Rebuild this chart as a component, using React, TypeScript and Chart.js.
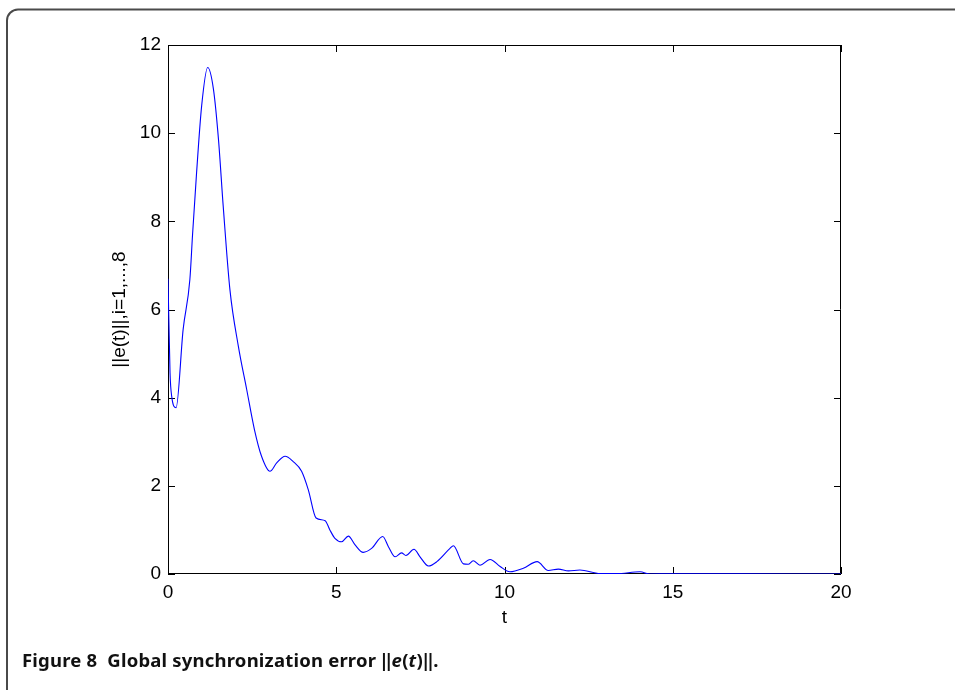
import { useEffect, useRef } from "react";
import { Chart, registerables } from "chart.js";

Chart.register(...registerables);

const tValues = [
  0, 0.06, 0.11, 0.24, 0.45, 0.65, 0.73, 0.85, 1.0, 1.18, 1.35, 1.5, 1.64, 1.84,
  2.09, 2.34, 2.57, 2.78, 3.03, 3.23, 3.48, 3.72, 3.97, 4.17, 4.4, 4.67, 4.81,
  4.96, 5.16, 5.36, 5.56, 5.8, 6.05, 6.38, 6.55, 6.75, 6.94, 7.07, 7.31, 7.49,
  7.74, 7.99, 8.38, 8.48, 8.78, 8.92, 9.07, 9.27, 9.57, 9.87, 10.16, 10.56,
  10.97, 11.3, 11.6, 11.9, 12.24, 12.84, 13.33, 14.03, 14.32, 15, 17, 20,
];
const errValues = [
  6.7, 4.57, 4.03, 3.77, 5.55, 6.68, 7.7, 9.11, 10.62, 11.49, 11.0, 9.86, 8.35,
  6.45, 5.17, 4.18, 3.27, 2.67, 2.33, 2.52, 2.67, 2.55, 2.33, 1.91, 1.27, 1.21,
  1.0, 0.81, 0.73, 0.86, 0.66, 0.49, 0.58, 0.85, 0.62, 0.39, 0.48, 0.42, 0.56,
  0.39, 0.18, 0.28, 0.58, 0.64, 0.23, 0.22, 0.3, 0.2, 0.33, 0.17, 0.05, 0.13,
  0.28, 0.08, 0.11, 0.07, 0.09, 0.01, 0.01, 0.05, 0.0, 0.005, 0.002, 0.001,
];
const xTickStep = 5;
const yTickStep = 2;
const xTitle = "t";
const yTitle = "||e(t)||,i=1,...,8";

const tickFont = { family: "'Liberation Sans', Arial, sans-serif", size: 19 };

const framePlugin = {
  id: "pageFrame",
  beforeDraw(chart: any) {
    const { ctx, width, height } = chart;
    const fx = 7;
    const fy = 9.5;
    const r = 11;
    ctx.save();
    ctx.strokeStyle = "#4a4a4a";
    ctx.lineWidth = 2;
    ctx.beginPath();
    ctx.moveTo(fx, height);
    ctx.lineTo(fx, fy + r);
    ctx.arcTo(fx, fy, fx + r, fy, r);
    ctx.lineTo(width, fy);
    ctx.stroke();
    ctx.restore();
  },
};

const boxPlugin = {
  id: "matlabBox",
  beforeDatasetsDraw(chart: any) {
    const { ctx, chartArea, scales } = chart;
    const { left, right, top, bottom } = chartArea;
    const x = scales.x;
    const y = scales.y;
    const tl = 7;
    ctx.save();
    ctx.strokeStyle = "#000";
    ctx.lineWidth = 1;
    ctx.beginPath();
    ctx.rect(left + 0.5, top + 0.5, right - left - 1, bottom - top - 1);
    x.ticks.forEach((t: any) => {
      const px = Math.round(x.getPixelForValue(t.value)) + 0.5;
      ctx.moveTo(px, bottom);
      ctx.lineTo(px, bottom - tl);
      ctx.moveTo(px, top);
      ctx.lineTo(px, top + tl);
    });
    y.ticks.forEach((t: any) => {
      const py = Math.round(y.getPixelForValue(t.value)) + 0.5;
      ctx.moveTo(left, py);
      ctx.lineTo(left + tl, py);
      ctx.moveTo(right, py);
      ctx.lineTo(right - tl, py);
    });
    ctx.stroke();
    ctx.restore();
  },
};

export default function App() {
  const ref = useRef<HTMLCanvasElement | null>(null);

  useEffect(() => {
    document.body.style.margin = "0";
    document.body.style.overflow = "hidden";
    if (!ref.current) return;
    const chart = new Chart(ref.current, {
      type: "line",
      data: {
        datasets: [
          {
            data: tValues.map((t, i) => ({ x: t, y: errValues[i] })),
            borderColor: "#0000ff",
            borderWidth: 1.1,
            pointRadius: 0,
            fill: false,
            cubicInterpolationMode: "monotone",
          },
        ],
      },
      options: {
        animation: false,
        responsive: false,
        events: [],
        layout: { padding: { left: 0, top: 45, right: 114, bottom: 0 } },
        plugins: { legend: { display: false }, tooltip: { enabled: false } },
        scales: {
          x: {
            type: "linear",
            min: 0,
            max: 20,
            grid: { display: false, drawTicks: false },
            border: { display: false },
            ticks: {
              stepSize: xTickStep,
              color: "#000",
              font: tickFont,
              padding: 7,
              maxRotation: 0,
              autoSkip: false,
            },
            title: {
              display: true,
              text: xTitle,
              color: "#000",
              font: tickFont,
              padding: { top: 0, bottom: 61 },
            },
            afterFit: (s: any) => {
              s.height = 116;
            },
          },
          y: {
            type: "linear",
            min: 0,
            max: 12,
            grid: { display: false, drawTicks: false },
            border: { display: false },
            ticks: {
              stepSize: yTickStep,
              color: "#000",
              font: tickFont,
              padding: 7,
              autoSkip: false,
            },
            title: {
              display: true,
              text: yTitle,
              color: "#000",
              font: tickFont,
              padding: { top: 108, bottom: 0 },
            },
            afterFit: (s: any) => {
              s.width = 168;
            },
          },
        },
      },
      plugins: [framePlugin, boxPlugin],
    } as any);
    return () => chart.destroy();
  }, []);

  return (
    <div
      style={{
        position: "relative",
        width: 955,
        height: 690,
        overflow: "hidden",
        background: "#fff",
      }}
    >
      <canvas
        ref={ref}
        width={955}
        height={690}
        style={{ position: "absolute", left: 0, top: 0 }}
      />
      <div
        style={{
          position: "absolute",
          left: 22,
          top: 650,
          fontFamily: "'Noto Sans', sans-serif",
          fontWeight: 700,
          fontSize: 18.5,
          letterSpacing: 0.2,
          lineHeight: "20px",
          color: "#111",
          whiteSpace: "nowrap",
        }}
      >
        Figure 8&nbsp;&nbsp;Global synchronization error ‖<i>e</i>(<i>t</i>)‖.
      </div>
    </div>
  );
}
